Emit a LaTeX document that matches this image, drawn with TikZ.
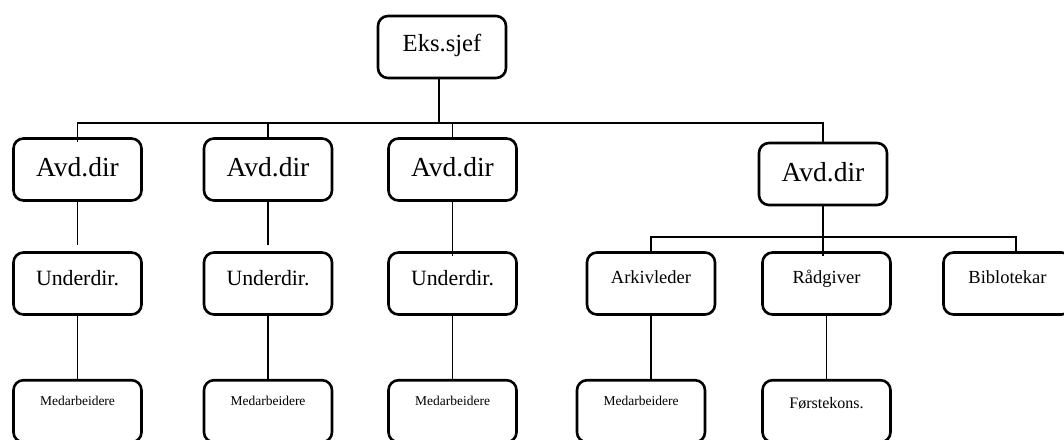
\documentclass[tikz,border=0pt]{standalone}
\usepackage{fontspec}
\setmainfont{Liberation Serif}

\tikzset{
    box/.style={draw, line width=2.6pt, rounded corners=10pt,
        minimum width=128pt, minimum height=62pt, inner sep=0pt},
    chief/.style={box, font=\fontsize{24.6}{28}\selectfont, text height=17pt, text depth=9pt},
    dir/.style={box, font=\fontsize{27.5}{31}\selectfont, text height=19pt, text depth=4.5pt},
    subdir/.style={box, font=\fontsize{21.8}{25}\selectfont, text height=15pt, text depth=12pt},
    role/.style={box, font=\fontsize{18.5}{22}\selectfont, text height=13pt, text depth=13.7pt},
    staff/.style={box, font=\fontsize{13.5}{16}\selectfont, text height=9.3pt, text depth=20pt},
    consult/.style={box, font=\fontsize{16}{19}\selectfont, text height=11.2pt, text depth=17.6pt},
    link/.style={line width=1.2pt}
}

\begin{document}
\begin{tikzpicture}[x=1pt,y=-1pt]
    \clip (0,0) rectangle (1064,439);

    \node[chief] (eks) at (442,47) {Eks.sjef};

    \node[dir] (avd1) at (77.5,169.5) {Avd.dir};
    \node[dir] (avd2) at (268,169.5) {Avd.dir};
    \node[dir] (avd3) at (452.5,169.5) {Avd.dir};
    \node[dir] (avd4) at (823,174) {Avd.dir};

    \node[subdir] (und1) at (77.5,283.5) {Underdir.};
    \node[subdir] (und2) at (268,283.5) {Underdir.};
    \node[subdir] (und3) at (452.5,283.5) {Underdir.};
    \node[role] (ark) at (651,283.5) {Arkivleder};
    \node[role] (rad) at (826.5,283.5) {Rådgiver};
    \node[role] (bib) at (1007.5,283.5) {Biblotekar};

    \node[staff] (med1) at (77.5,411.2) {Medarbeidere};
    \node[staff] (med2) at (268,411.2) {Medarbeidere};
    \node[staff] (med3) at (452.5,411.2) {Medarbeidere};
    \node[staff] (med4) at (641,411.2) {Medarbeidere};
    \node[consult] (forst) at (826.5,411.2) {Førstekons.};

    \coordinate (bar) at (439,123);
    \coordinate (bar2) at (823,237);

    % top level
    \draw[link] (eks.south -| bar) -- (bar);
    \draw[link, shorten <=-5pt] (avd1.north) |- (bar) -| (avd4.north);
    \draw[link] (avd2.north) -- (avd2.north |- bar);
    \draw[link] (avd3.north) -- (avd3.north |- bar);

    % left branches
    \draw[link, shorten >=6pt] (avd1) -- (und1);
    \draw[link, shorten >=6pt] (avd2) -- (und2);
    \draw[link, shorten >=-5pt] (avd3) -- (und3);
    \foreach \i in {1,2,3}
        \draw[link] (und\i) -- (med\i);

    % right branch
    \draw[link, shorten >=-5pt] (avd4.south) -- (avd4.south |- rad.north);
    \draw[link] (ark.north) |- (bar2) -| ([xshift=8.5pt]bib.north);
    \draw[link] (ark) -- (ark |- med4.north);
    \draw[link] (rad) -- (forst);
\end{tikzpicture}
\end{document}
